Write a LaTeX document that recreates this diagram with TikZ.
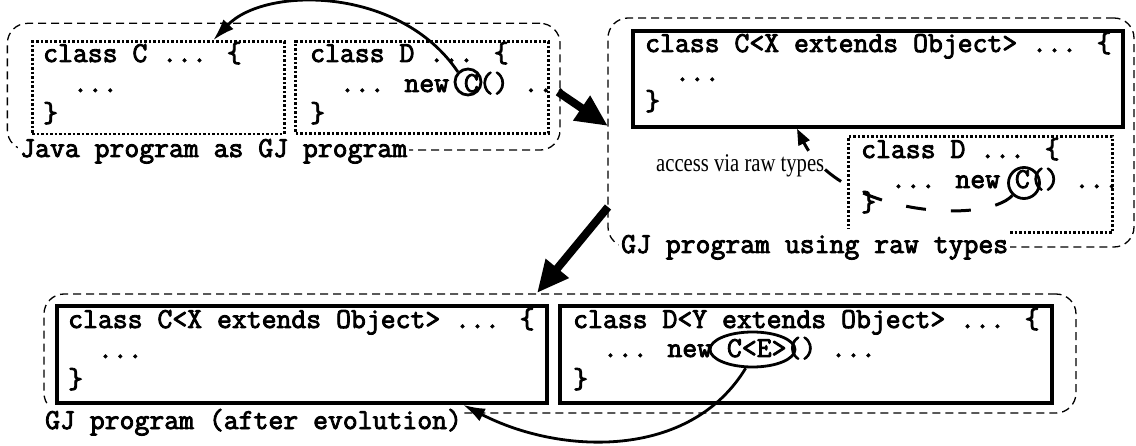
\documentclass[tikz,border=0pt]{standalone}
\usepackage{fontspec}
\usepackage{graphicx}
\setmainfont{Liberation Serif}
\newfontfamily\codefont{Latin Modern Mono}[FakeBold=3]
\usetikzlibrary{arrows.meta,shapes.geometric}
\begin{document}
\begin{tikzpicture}[x=1pt,y=-1pt,
  grp/.style={draw, line width=1.3pt, dash pattern=on 8pt off 5pt, rounded corners=20pt, inner sep=0pt},
  dotbox/.style={draw, line width=3pt, dash pattern=on 2.5pt off 2pt, inner sep=0pt},
  solidbox/.style={draw, line width=3.5pt, inner sep=0pt},
  code/.style={anchor=base west, inner sep=0pt, font=\codefont\bfseries\fontsize{28.9}{30}\selectfont},
  glabel/.style={anchor=base west, fill=white, inner xsep=2pt, inner ysep=4pt, font=\codefont\bfseries\fontsize{28.9}{30}\selectfont},
  markc/.style={draw, line width=2.8pt, inner sep=0pt},
  bigarrow/.style={line width=8pt, -{Triangle[length=32pt,width=28pt]}},
  thinarrow/.style={line width=2.8pt, -{Latex[length=22pt,width=14pt]}},
  rawarrow/.style={line width=3pt, dash pattern=on 20pt off 25pt, -{Triangle[length=16pt,width=12pt]}}
]
\useasboundingbox (0,0) rectangle (1136,446);

% groups
\node[grp, minimum width=552.7pt, minimum height=126.7pt] (g1) at (283.7,86.7) {};
\node[grp, minimum width=526pt, minimum height=229pt] (g2) at (871,132.5) {};
\node[grp, minimum width=1032pt, minimum height=119pt] (g3) at (560,353.5) {};

% inner boxes
\node[dotbox, minimum width=251.7pt, minimum height=92.3pt] (bC1) at (158.2,87.9) {};
\node[dotbox, minimum width=252.3pt, minimum height=91.8pt] (bD1) at (421.9,87.6) {};
\node[solidbox, minimum width=490pt, minimum height=96pt] (bC2) at (878,79) {};
\node[dotbox, minimum width=264pt, minimum height=96pt] (bD2) at (980,185) {};
\node[solidbox, minimum width=490pt, minimum height=97pt] (bC3) at (302,354.5) {};
\node[solidbox, minimum width=492pt, minimum height=97pt] (bD3) at (806,354.5) {};

% code text
\node[code] (tC1a) at (43,62) {class C ... \{};
\node[code] (tC1b) at (43,92) {\ \ ...};
\node[code] (tC1c) at (43,122) {\}};
\node[code] (tD1a) at (310,62) {class D ... \{};
\node[code] (tD1b) at (310,92) {\ \ ... new C() ...};
\node[code] (tD1c) at (310,122) {\}};

\node[code] (tC2a) at (645,52) {class C<X extends Object> ... \{};
\node[code] (tC2b) at (645,81) {\ \ ...};
\node[code] (tC2c) at (645,110) {\}};
\node[code] (tD2a) at (861,158) {class D ... \{};
\node[code] (tD2b) at (861,188) {\ \ ... new C() ...};
\node[code] (tD2c) at (861,211) {\}};

\node[code] (tC3a) at (68,328) {class C<X extends Object> ... \{};
\node[code] (tC3b) at (68,358) {\ \ ...};
\node[code] (tC3c) at (68,388) {\}};
\node[code] (tD3a) at (573,328) {class D<Y extends Object> ... \{};
\node[code] (tD3b) at (573,357) {\ \ ... new C<E>() ...};
\node[code] (tD3c) at (573,388) {\}};

% group labels
\node[glabel] (l1) at (18,157) {Java program as GJ program};
\node[glabel, inner ysep=6pt] (l2) at (619,253) {GJ program using raw types};
\node[glabel] (l3) at (43,429) {GJ program (after evolution)};

\node[anchor=base west, inner sep=0pt, font=\rmfamily\fontsize{25.5}{30}\selectfont] (acc) at (656,172) {\scalebox{0.81}[1]{access via raw types}};

% marks
\node[markc, circle, minimum size=26pt] (cc1) at (468,82) {};
\node[markc, circle, minimum size=31pt] (cc2) at (1024,183) {};
\node[markc, ellipse, minimum width=85pt, minimum height=35pt] (ce3) at (752.5,349.5) {};

% connectors
\coordinate (a1s) at (558,92);
\coordinate (a1e) at (608,126);
\coordinate (a2s) at (608,207);
\coordinate (a2e) at (537,293);
\draw[bigarrow] (a1s) -- (a1e);
\draw[bigarrow] (a2s) -- (a2e);

\draw[thinarrow] (cc1.135) .. controls (400,-14) and (265,-14) .. ([xshift=55pt]bC1.north);
\draw[rawarrow] (cc2.227) .. controls (985,225) and (840,215) .. ([xshift=-81pt]bC2.south);
\draw[thinarrow] (ce3.250) .. controls (690,460) and (560,455) .. ([xshift=161pt]bC3.south);
\end{tikzpicture}
\end{document}
